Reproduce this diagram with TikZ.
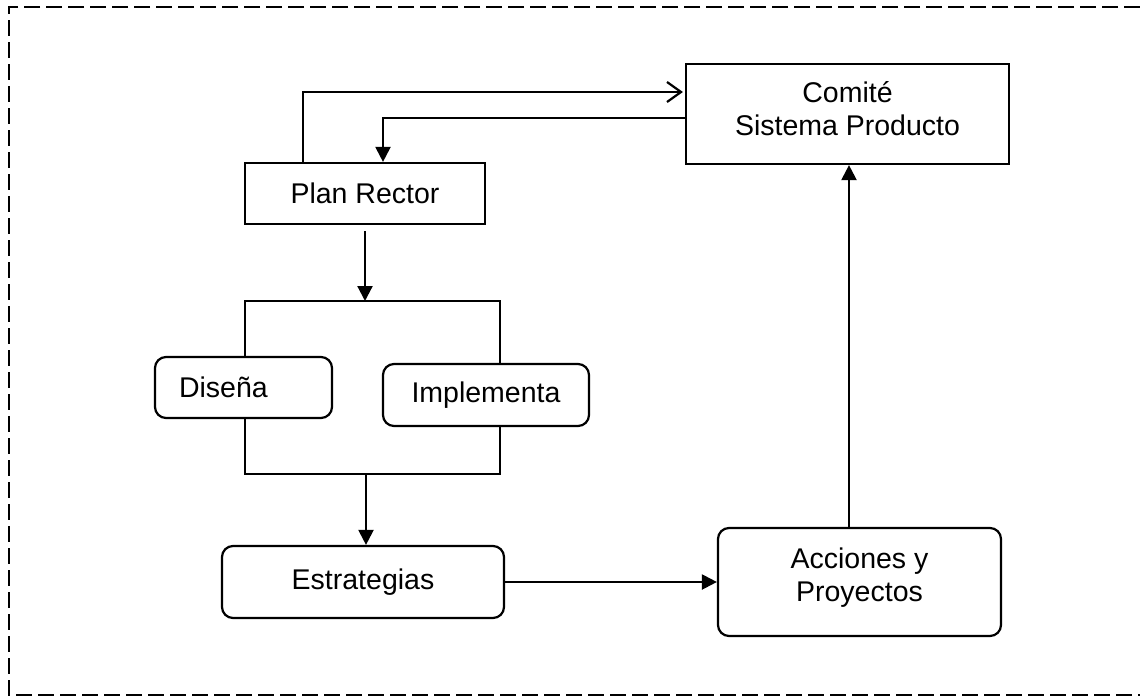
\documentclass[tikz,border=0pt]{standalone}
\usepackage{fontspec}
\setmainfont{Liberation Sans}
\usetikzlibrary{arrows.meta}
\begin{document}
\begin{tikzpicture}[x=1pt,y=-1pt,
  every node/.style={font=\fontsize{28.5}{33}\selectfont, inner sep=0pt},
  sqbox/.style={draw, line width=2.2pt, rectangle, align=center},
  rbox/.style={draw, line width=2.2pt, rectangle, rounded corners=11pt, align=center},
  link/.style={line width=2.2pt},
  flow/.style={link, -{Triangle[length=15pt,width=15pt]}},
  openflow/.style={link, -{Straight Barb[length=14pt,width=20pt,line width=2.2pt]}},
  frame/.style={line width=2pt, dash pattern=on 16pt off 6pt}
]
\useasboundingbox (0,0) rectangle (1140,696);

% outer dashed frame
\draw[frame] (1140,7) -- (9,7) -- (9,695) -- (1140,695);

% boxes
\node[sqbox, minimum width=323pt, minimum height=100pt] (comite) at (847.5,114) {};
\node[align=center] (comitetext) at (847.5,109) {Comité\\Sistema Producto};
\node[sqbox, minimum width=240pt, minimum height=61pt] (plan) at (365,193.5) {Plan Rector};
\node[rbox, inner xsep=24pt, text width=129pt, align=left, minimum height=61pt] (disena) at (243.5,387.5) {Diseña};
\node[rbox, minimum width=206pt, minimum height=62pt] (impl) at (486,395) {Implementa};
\node[rbox, minimum width=282pt, minimum height=72pt] (estr) at (363,582) {Estrategias};
\node[rbox, minimum width=283pt, minimum height=108pt] (acc) at (859.5,582) {};
\node[align=center] (acctext) at (859.5,578) {Acciones y\\Proyectos};

% helper points
\coordinate (up) at (303,92);
\coordinate (dn) at (383,118);
\coordinate (btl) at (245,301);
\coordinate (btr) at (500,301);
\coordinate (bbl) at (245,474);
\coordinate (bbr) at (500,474);
\coordinate (mid) at (366,474);
\coordinate (rise) at (849,0);

% connectors between Plan Rector and the committee
\draw[openflow] (plan.north -| up) |- ([xshift=-2pt]comite.west |- up);
\draw[flow] (comite.west |- dn) -| (plan.north -| dn);

% Plan Rector into the bracket
\draw[flow, shorten <=6pt] (plan.south) -- (plan.south |- btl);

% bracket around Diseña / Implementa
\draw[link] (disena.north -| btl) -- (btl) -- (btr) -- (impl.north -| btr);
\draw[link] (disena.south -| bbl) -- (bbl) -- (bbr) -- (impl.south -| bbr);

% down to Estrategias, across and up
\draw[flow] (mid) -- (estr.north -| mid);
\draw[flow] (estr.east) -- (acc.west |- estr.east);
\draw[flow] (acc.north -| rise) -- (comite.south -| rise);
\end{tikzpicture}
\end{document}
